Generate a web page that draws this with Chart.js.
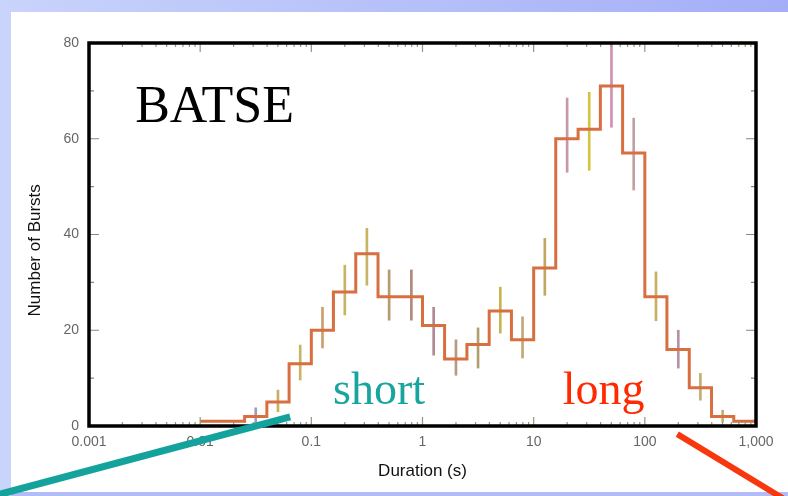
<!DOCTYPE html>
<html>
<head>
<meta charset="utf-8">
<script src="https://cdn.jsdelivr.net/npm/chart.js@4"></script>
<style>
  html, body { margin: 0; padding: 0; }
  #wrap {
    position: relative;
    width: 788px;
    height: 496px;
    background:
      linear-gradient(to right, #c9d3fb, #a4aef7) top left / 100% 12px no-repeat,
      linear-gradient(#c9d4fb, #c9d4fb) top left / 11px 100% no-repeat,
      linear-gradient(#b2bdf8, #b2bdf8) bottom left / 100% 4px no-repeat,
      #fff;
  }
</style>
</head>
<body>
<div id="wrap"><canvas id="durations" width="788" height="496"></canvas></div>
<script>
// lower edge of each duration bin (s); the last edge closes the final bin
const binEdges = [0.01, 0.0158, 0.0251, 0.0398, 0.0631, 0.1, 0.158, 0.251, 0.398, 0.631,
                  1, 1.58, 2.51, 3.98, 6.31, 10, 15.8, 25.1, 39.8, 63.1,
                  100, 158, 251, 398, 631, 1000];
const burstCounts = [1, 1, 2, 5, 13, 20, 28, 36, 27, 27,
                     21, 14, 17, 24, 18, 33, 60, 62, 71, 57,
                     27, 16, 8, 2, 1];

// error bars at the bin centres
const errCentres = [0.0316, 0.0501, 0.0794, 0.126, 0.2, 0.316, 0.501, 0.794, 1.26, 2.0, 3.16,
                    5.01, 7.94, 12.6, 20, 31.6, 50.1, 79.4, 126, 200, 316, 501];
const errLow  = [0.5, 3, 9.6, 16.3, 23.2, 29.4, 22.1, 22.1, 14.8, 10.6, 12.1,
                 19.4, 14.2, 27.3, 53, 53.4, 62.4, 49.3, 22, 12.1, 5.4, 0.8];
const errHigh = [3.8, 7.5, 16.9, 24.8, 33.6, 41.3, 32.6, 32.6, 24.8, 18, 20.5,
                 29, 22.8, 39.2, 68.5, 69.7, 80, 64.3, 32.2, 20, 11, 3.3];
const errColours = ['#a898c0', '#c8b060', '#c8b464', '#c8a070', '#c8b464', '#c8b464', '#b89a70',
                    '#b08a78', '#b08a90', '#b89a80', '#b0a070', '#c8b450', '#c0a878', '#c0a860',
                    '#c898a8', '#d4c440', '#d090b0', '#c0a0a0', '#c8b060', '#b890a8', '#c0b070', '#c0b070'];

const durationTicks = [0.001, 0.01, 0.1, 1, 10, 100, 1000];
const durationLabels = ['0.001', '0.01', '0.1', '1', '10', '100', '1,000'];
const countTicks = [0, 20, 40, 60, 80];

// step outline: one point per bin edge, the last one repeats the final count
const stepPoints = binEdges.map((e, i) => ({
  x: e,
  y: burstCounts[Math.min(i, burstCounts.length - 1)]
}));
const errPoints = errCentres.map((c, i) => ({ x: c, y: [errLow[i], errHigh[i]] }));

const sans = '"Liberation Sans", Arial, sans-serif';
const serif = '"Liberation Serif", "Times New Roman", serif';

// frame, inward ticks, labels and the two pointer lines
const frameAndNotes = {
  id: 'frameAndNotes',
  afterDatasetsDraw(chart) {
    const { ctx, chartArea: a, scales: { x, y } } = chart;
    ctx.save();

    ctx.lineWidth = 1.2;
    ctx.strokeStyle = '#8c9a78';
    for (let d = 0; d < durationTicks.length - 1; d++) {
      for (let m = 1; m < 10; m++) {
        const px = x.getPixelForValue(durationTicks[d] * m);
        const len = m === 1 ? 9 : 4;
        ctx.beginPath();
        ctx.moveTo(px, a.bottom); ctx.lineTo(px, a.bottom - len);
        ctx.moveTo(px, a.top); ctx.lineTo(px, a.top + len);
        ctx.stroke();
      }
    }
    ctx.strokeStyle = '#888';
    for (let v = 0; v <= 80; v += 10) {
      const py = y.getPixelForValue(v);
      const len = v % 20 === 0 ? 10 : 5;
      ctx.beginPath();
      ctx.moveTo(a.left, py); ctx.lineTo(a.left + len, py);
      ctx.moveTo(a.right, py); ctx.lineTo(a.right - len, py);
      ctx.stroke();
    }

    ctx.lineWidth = 3.5;
    ctx.strokeStyle = '#000';
    ctx.strokeRect(a.left, a.top, a.right - a.left, a.bottom - a.top);

    // y axis title sits a little below the middle of the axis
    ctx.save();
    ctx.translate(35, y.getPixelForValue(36.7));
    ctx.rotate(-Math.PI / 2);
    ctx.textAlign = 'center';
    ctx.textBaseline = 'middle';
    ctx.fillStyle = '#111';
    ctx.font = '17px ' + sans;
    ctx.fillText('Number of Bursts', 0, 0);
    ctx.restore();

    ctx.textAlign = 'left';
    ctx.textBaseline = 'alphabetic';
    ctx.fillStyle = '#000';
    ctx.font = '52px ' + serif;
    ctx.fillText('BATSE', x.getPixelForValue(0.0026), y.getPixelForValue(63.5));

    ctx.font = '46px ' + serif;
    ctx.fillStyle = '#18a5a0';
    ctx.fillText('short', x.getPixelForValue(0.157), y.getPixelForValue(4.6));
    ctx.fillStyle = '#ff2a00';
    ctx.fillText('long', x.getPixelForValue(18.3), y.getPixelForValue(4.6));

    ctx.lineCap = 'butt';
    ctx.lineWidth = 7;
    ctx.strokeStyle = '#14a29d';
    ctx.beginPath();
    ctx.moveTo(x.getPixelForValue(0.000129), y.getPixelForValue(-14.8));
    ctx.lineTo(x.getPixelForValue(0.0645), y.getPixelForValue(1.9));
    ctx.stroke();

    ctx.lineWidth = 6;
    ctx.strokeStyle = '#f8380c';
    ctx.beginPath();
    ctx.moveTo(x.getPixelForValue(196), y.getPixelForValue(-1.7));
    ctx.lineTo(x.getPixelForValue(1890), y.getPixelForValue(-15.6));
    ctx.stroke();

    ctx.restore();
  }
};

new Chart(document.getElementById('durations'), {
  type: 'line',
  data: {
    datasets: [
      {
        type: 'bar',
        data: errPoints,
        backgroundColor: errColours,
        barThickness: 2,
        order: 2
      },
      {
        data: stepPoints,
        stepped: true,
        borderColor: '#d86f40',
        borderWidth: 3,
        pointRadius: 0,
        fill: false,
        order: 1
      }
    ]
  },
  options: {
    responsive: false,
    animation: false,
    layout: { padding: { top: 43, right: 32, left: 0, bottom: 0 } },
    plugins: {
      legend: { display: false },
      tooltip: { enabled: false }
    },
    scales: {
      x: {
        type: 'logarithmic',
        min: 0.001,
        max: 1000,
        offset: false,
        grid: { display: false, drawTicks: false },
        border: { display: false },
        afterBuildTicks: s => { s.ticks = durationTicks.map(v => ({ value: v })); },
        afterFit: s => { s.height = 70; },
        ticks: {
          autoSkip: false,
          maxRotation: 0,
          padding: 8,
          color: '#666',
          font: { family: sans, size: 14 },
          callback: (v, i) => durationLabels[i]
        },
        title: {
          display: true,
          text: 'Duration (s)',
          color: '#111',
          font: { family: sans, size: 17 },
          padding: { top: 0, bottom: 14 }
        }
      },
      y: {
        min: 0,
        max: 80,
        grid: { display: false, drawTicks: false },
        border: { display: false },
        afterBuildTicks: s => { s.ticks = countTicks.map(v => ({ value: v })); },
        afterFit: s => { s.width = 89; },
        ticks: {
          padding: 10,
          color: '#666',
          font: { family: sans, size: 14 }
        }
      }
    }
  },
  plugins: [frameAndNotes]
});
</script>
</body>
</html>
